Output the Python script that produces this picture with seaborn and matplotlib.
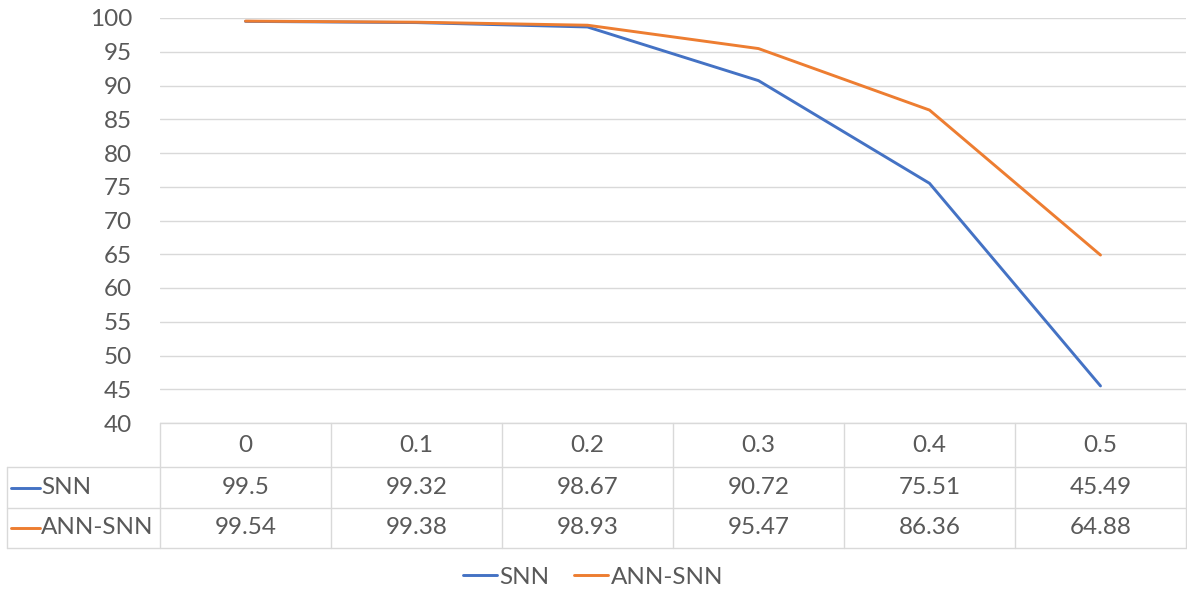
import matplotlib
matplotlib.use("Agg")
import matplotlib.pyplot as plt
from matplotlib.lines import Line2D
import seaborn as sns
import pandas as pd

# Noise levels and accuracies (%)
noise_levels = ["0", "0.1", "0.2", "0.3", "0.4", "0.5"]
snn_acc = [99.5, 99.32, 98.67, 90.72, 75.51, 45.49]
ann_snn_acc = [99.54, 99.38, 98.93, 95.47, 86.36, 64.88]
series_names = ["SNN", "ANN-SNN"]
y_ticks = list(range(40, 101, 5))

BLUE = "#4472C4"
ORANGE = "#ED7D31"
GRID = "#D9D9D9"
TEXT = "#595959"
FONT = 17.5

sns.set_theme(style="white")
plt.rcParams["font.family"] = ["Lato", "DejaVu Sans"]

W, H = 1187, 591
fig = plt.figure(figsize=(W / 100, H / 100), dpi=100)

def fx(px):
    return px / W

def fy(py):
    return 1 - py / H

ax_left, ax_right, ax_top, ax_bottom = 160, 1186, 18, 423
ax = fig.add_axes([fx(ax_left), fy(ax_bottom), fx(ax_right - ax_left), (ax_bottom - ax_top) / H])

df = pd.DataFrame({
    "noise": noise_levels * 2,
    "acc": snn_acc + ann_snn_acc,
    "model": [series_names[0]] * len(noise_levels) + [series_names[1]] * len(noise_levels),
})
sns.lineplot(data=df, x="noise", y="acc", hue="model", palette=[BLUE, ORANGE],
             sort=False, linewidth=2.1, ax=ax, legend=False)

ax.set_xlim(-0.5, len(noise_levels) - 0.5)
ax.set_ylim(y_ticks[0], y_ticks[-1])
ax.set_yticks(y_ticks)
ax.set_yticklabels([str(t) for t in y_ticks], fontsize=FONT, color=TEXT)
ax.tick_params(axis="y", length=0, pad=20)
ax.set_xticks([])
ax.set_xlabel("")
ax.set_ylabel("")
ax.grid(axis="y", color=GRID, linewidth=1)
for s in ax.spines.values():
    s.set_visible(False)

# Data table under the plot area
ncol = len(noise_levels)
col_w = (ax_right - ax_left) / ncol
row_top = [423, 467, 508]
row_bot = 548
label_left = 7

def hline(x0, x1, y):
    fig.add_artist(Line2D([fx(x0), fx(x1)], [fy(y), fy(y)], color=GRID, linewidth=1))

def vline(x, y0, y1):
    fig.add_artist(Line2D([fx(x), fx(x)], [fy(y0), fy(y1)], color=GRID, linewidth=1))

hline(ax_left, ax_right, row_top[0])
for y in row_top[1:] + [row_bot]:
    hline(label_left, ax_right, y)
for i in range(ncol + 1):
    vline(ax_left + i * col_w, row_top[0], row_bot)
vline(label_left, row_top[1], row_bot)

# Header row
hdr_y = (row_top[0] + row_top[1]) / 2
for i, lab in enumerate(noise_levels):
    fig.text(fx(ax_left + (i + 0.5) * col_w), fy(hdr_y), lab, ha="center", va="center",
             fontsize=FONT, color=TEXT)

# Series rows
row_ys = [(row_top[1] + row_top[2]) / 2, (row_top[2] + row_bot) / 2]
for name, vals, color, y in zip(series_names, [snn_acc, ann_snn_acc], [BLUE, ORANGE], row_ys):
    fig.add_artist(Line2D([fx(11), fx(40)], [fy(y), fy(y)], color=color, linewidth=2.1))
    fig.text(fx(41), fy(y), name, ha="left", va="center", fontsize=FONT, color=TEXT)
    for i, v in enumerate(vals):
        fig.text(fx(ax_left + (i + 0.5) * col_w), fy(y), f"{v:g}", ha="center", va="center",
                 fontsize=FONT, color=TEXT)

# Legend
handles = [Line2D([], [], color=c, linewidth=2.1) for c in [BLUE, ORANGE]]
fig.legend(handles, series_names, loc="center", bbox_to_anchor=(fx(593), fy(577)),
           ncol=2, frameon=False, fontsize=FONT, labelcolor=TEXT,
           handlelength=1.4, handletextpad=0.1, columnspacing=1.0)

fig.savefig("out.png", dpi=100, facecolor="white")
